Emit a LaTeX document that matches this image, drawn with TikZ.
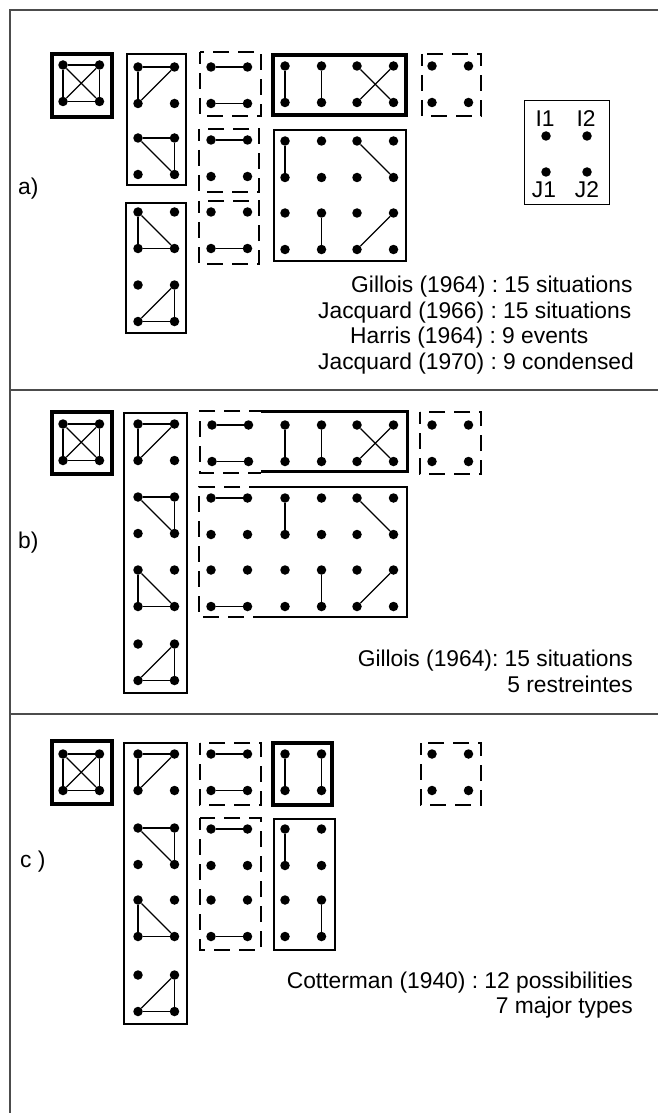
\documentclass[tikz,border=0pt]{standalone}
\usepackage{fontspec}
\setmainfont{Liberation Sans}
\frenchspacing

% four dots of one 2x2 situation, top left dot at (#2,#3)
\newcommand{\dotcell}[3]{%
  \node[dot] (#1tl) at (#2,#3) {};
  \node[dot] (#1tr) at (#2+36.5,#3) {};
  \node[dot] (#1bl) at (#2,#3+36.5) {};
  \node[dot] (#1br) at (#2+36.5,#3+36.5) {};}

\begin{document}
\begin{tikzpicture}[x=1pt,y=-1pt,
    dot/.style={circle,fill,inner sep=0pt,minimum size=9.5pt},
    link/.style={line width=1.1pt},
    frame/.style={line width=1.2pt,black!70},
    heavy/.style={line width=4pt},
    boxed/.style={line width=2.4pt},
    dashbox/.style={line width=1.2pt,dash pattern=on 16pt off 9pt,dash phase=4pt},
    lbl/.style={font=\fontsize{22.8}{26}\selectfont,inner sep=0pt}]
\useasboundingbox (0,0) rectangle (658,1115);

% frame
\draw[frame] (658,10) -- (10,10) -- (10,1113);
\draw[frame] (10,390) -- (658,390);
\draw[frame] (10,714) -- (658,714);

% ---- a)
\node[lbl,anchor=base west] (la) at (18,195) {a)};
\draw[heavy] (52,54) rectangle (112,117);
\draw[boxed] (127,54) rectangle (186,185);
\draw[boxed] (126,203) rectangle (186,333);
\draw[dashbox] (200,52) rectangle (261,116);
\draw[dashbox] (199,129) rectangle (259,192);
\draw[dashbox] (199,201) rectangle (259,264);
\draw[heavy] (273,55) rectangle (406,115);
\draw[dashbox] (422,54) rectangle (481,116);
\draw[boxed] (274,130) rectangle (406,261);
\draw[line width=1pt] (524,101) rectangle (609,205);

\dotcell{a1}{63}{65}
\dotcell{a2}{138}{67}
\dotcell{a3}{138}{138}
\dotcell{a4}{138}{212}
\dotcell{a5}{138}{285}
\dotcell{a6}{211}{67}
\dotcell{a7}{211}{140}
\dotcell{a8}{211}{212}
\dotcell{a9}{285}{66}
\dotcell{a10}{357}{66}
\dotcell{a11}{432}{66}
\dotcell{a12}{285}{141}
\dotcell{a13}{357}{141}
\dotcell{a14}{285}{213}
\dotcell{a15}{357}{213}

\path[link] (a1tl) edge (a1tr) edge (a1bl) edge (a1br)
            (a1br) edge (a1tr) edge (a1bl)
            (a1tr) edge (a1bl)
            (a2tl) edge (a2tr) edge (a2bl)
            (a2bl) edge (a2tr)
            (a3tl) edge (a3tr) edge (a3br)
            (a3tr) edge (a3br)
            (a4tl) edge (a4bl) edge (a4br)
            (a4bl) edge (a4br)
            (a5tr) edge (a5bl) edge (a5br)
            (a5bl) edge (a5br)
            (a6tl) edge (a6tr)
            (a6bl) edge (a6br)
            (a7tl) edge (a7tr)
            (a8bl) edge (a8br)
            (a9tl) edge (a9bl)
            (a9tr) edge (a9br)
            (a10tl) edge (a10br)
            (a10tr) edge (a10bl)
            (a12tl) edge (a12bl)
            (a13tl) edge (a13br)
            (a14tr) edge (a14br)
            (a15tr) edge (a15bl);

% legend
\node[dot] (i1) at (546,136) {};
\node[dot] (i2) at (587,136) {};
\node[dot] (j1) at (546,172) {};
\node[dot] (j2) at (587,172) {};
\node[lbl,anchor=base] (ti1) at (545,127) {I1};
\node[lbl,anchor=base] (ti2) at (586,127) {I2};
\node[lbl,anchor=base] (tj1) at (544,198) {J1};
\node[lbl,anchor=base] (tj2) at (587,198) {J2};

\node[lbl,anchor=base west] (gil) at (351,292) {Gillois (1964) : 15 situations};
\node[lbl,anchor=base west] (jac) at (318,318) {Jacquard (1966) : 15 situations};
\node[lbl,anchor=base west] (har) at (350,343) {Harris (1964) : 9 events};
\node[lbl,anchor=base west] (jacb) at (318,369) {Jacquard (1970) : 9 condensed};

% ---- b)
\node[lbl,anchor=base west] (lb) at (18,548) {b)};
\draw[heavy] (52,412) rectangle (112,474);
\draw[boxed] (124,413) rectangle (187,693);
\draw[dashbox] (261,411) -- (200,411) -- (200,473) -- (261,473);
\draw[line width=3pt] (261,411.5) -- (407.5,411.5) -- (407.5,471.5) -- (261,471.5);
\draw[dashbox] (420,412) rectangle (481,474);
\draw[dashbox] (261,487) -- (199,487) -- (199,617) -- (261,617);
\draw[boxed] (261,487) -- (407,487) -- (407,617) -- (261,617);

\dotcell{b1}{63}{424}
\dotcell{b2}{138}{424}
\dotcell{b3}{138}{497}
\dotcell{b4}{138}{570}
\dotcell{b5}{138}{644}
\dotcell{b6}{212}{425}
\dotcell{b7}{285}{425}
\dotcell{b8}{357}{425}
\dotcell{b9}{432}{425}
\dotcell{b10}{211}{498}
\dotcell{b11}{285}{498}
\dotcell{b12}{357}{498}
\dotcell{b13}{211}{570}
\dotcell{b14}{285}{570}
\dotcell{b15}{357}{570}

\path[link] (b1tl) edge (b1tr) edge (b1bl) edge (b1br)
            (b1br) edge (b1tr) edge (b1bl)
            (b1tr) edge (b1bl)
            (b2tl) edge (b2tr) edge (b2bl)
            (b2bl) edge (b2tr)
            (b3tl) edge (b3tr) edge (b3br)
            (b3tr) edge (b3br)
            (b4tl) edge (b4bl) edge (b4br)
            (b4bl) edge (b4br)
            (b5tr) edge (b5bl) edge (b5br)
            (b5bl) edge (b5br)
            (b6tl) edge (b6tr)
            (b6bl) edge (b6br)
            (b7tl) edge (b7bl)
            (b7tr) edge (b7br)
            (b8tl) edge (b8br)
            (b8tr) edge (b8bl)
            (b10tl) edge (b10tr)
            (b11tl) edge (b11bl)
            (b12tl) edge (b12br)
            (b13bl) edge (b13br)
            (b14tr) edge (b14br)
            (b15tr) edge (b15bl);

\node[lbl,anchor=base east] (gilb) at (633,666) {Gillois (1964): 15 situations};
\node[lbl,anchor=base east] (res) at (633,692) {5 restreintes};

% ---- c)
\node[lbl,anchor=base west] (lc) at (20,867) {c )};
\draw[heavy] (52,741) rectangle (112,804);
\draw[boxed] (124,743) rectangle (187,1024);
\draw[dashbox] (200,743) rectangle (261,805);
\draw[heavy] (273,743) rectangle (332,805);
\draw[dashbox] (200,818) rectangle (261,950);
\draw[boxed] (274,819) rectangle (335,950);
\draw[dashbox] (421,743) rectangle (481,805);

\dotcell{c1}{63}{754}
\dotcell{c2}{138}{754}
\dotcell{c3}{138}{828}
\dotcell{c4}{138}{900}
\dotcell{c5}{138}{975}
\dotcell{c6}{211}{754}
\dotcell{c7}{285}{754}
\dotcell{c8}{432}{754}
\dotcell{c9}{211}{829}
\dotcell{c10}{211}{900}
\dotcell{c11}{285}{829}
\dotcell{c12}{285}{900}

\path[link] (c1tl) edge (c1tr) edge (c1bl) edge (c1br)
            (c1br) edge (c1tr) edge (c1bl)
            (c1tr) edge (c1bl)
            (c2tl) edge (c2tr) edge (c2bl)
            (c2bl) edge (c2tr)
            (c3tl) edge (c3tr) edge (c3br)
            (c3tr) edge (c3br)
            (c4tl) edge (c4bl) edge (c4br)
            (c4bl) edge (c4br)
            (c5tr) edge (c5bl) edge (c5br)
            (c5bl) edge (c5br)
            (c6tl) edge (c6tr)
            (c6bl) edge (c6br)
            (c7tl) edge (c7bl)
            (c7tr) edge (c7br)
            (c9tl) edge (c9tr)
            (c10bl) edge (c10br)
            (c11tl) edge (c11bl)
            (c12tr) edge (c12br);

\node[lbl,anchor=base east] (cot) at (633,988) {Cotterman (1940) : 12 possibilities};
\node[lbl,anchor=base east] (maj) at (633,1013) {7 major types};
\end{tikzpicture}
\end{document}
